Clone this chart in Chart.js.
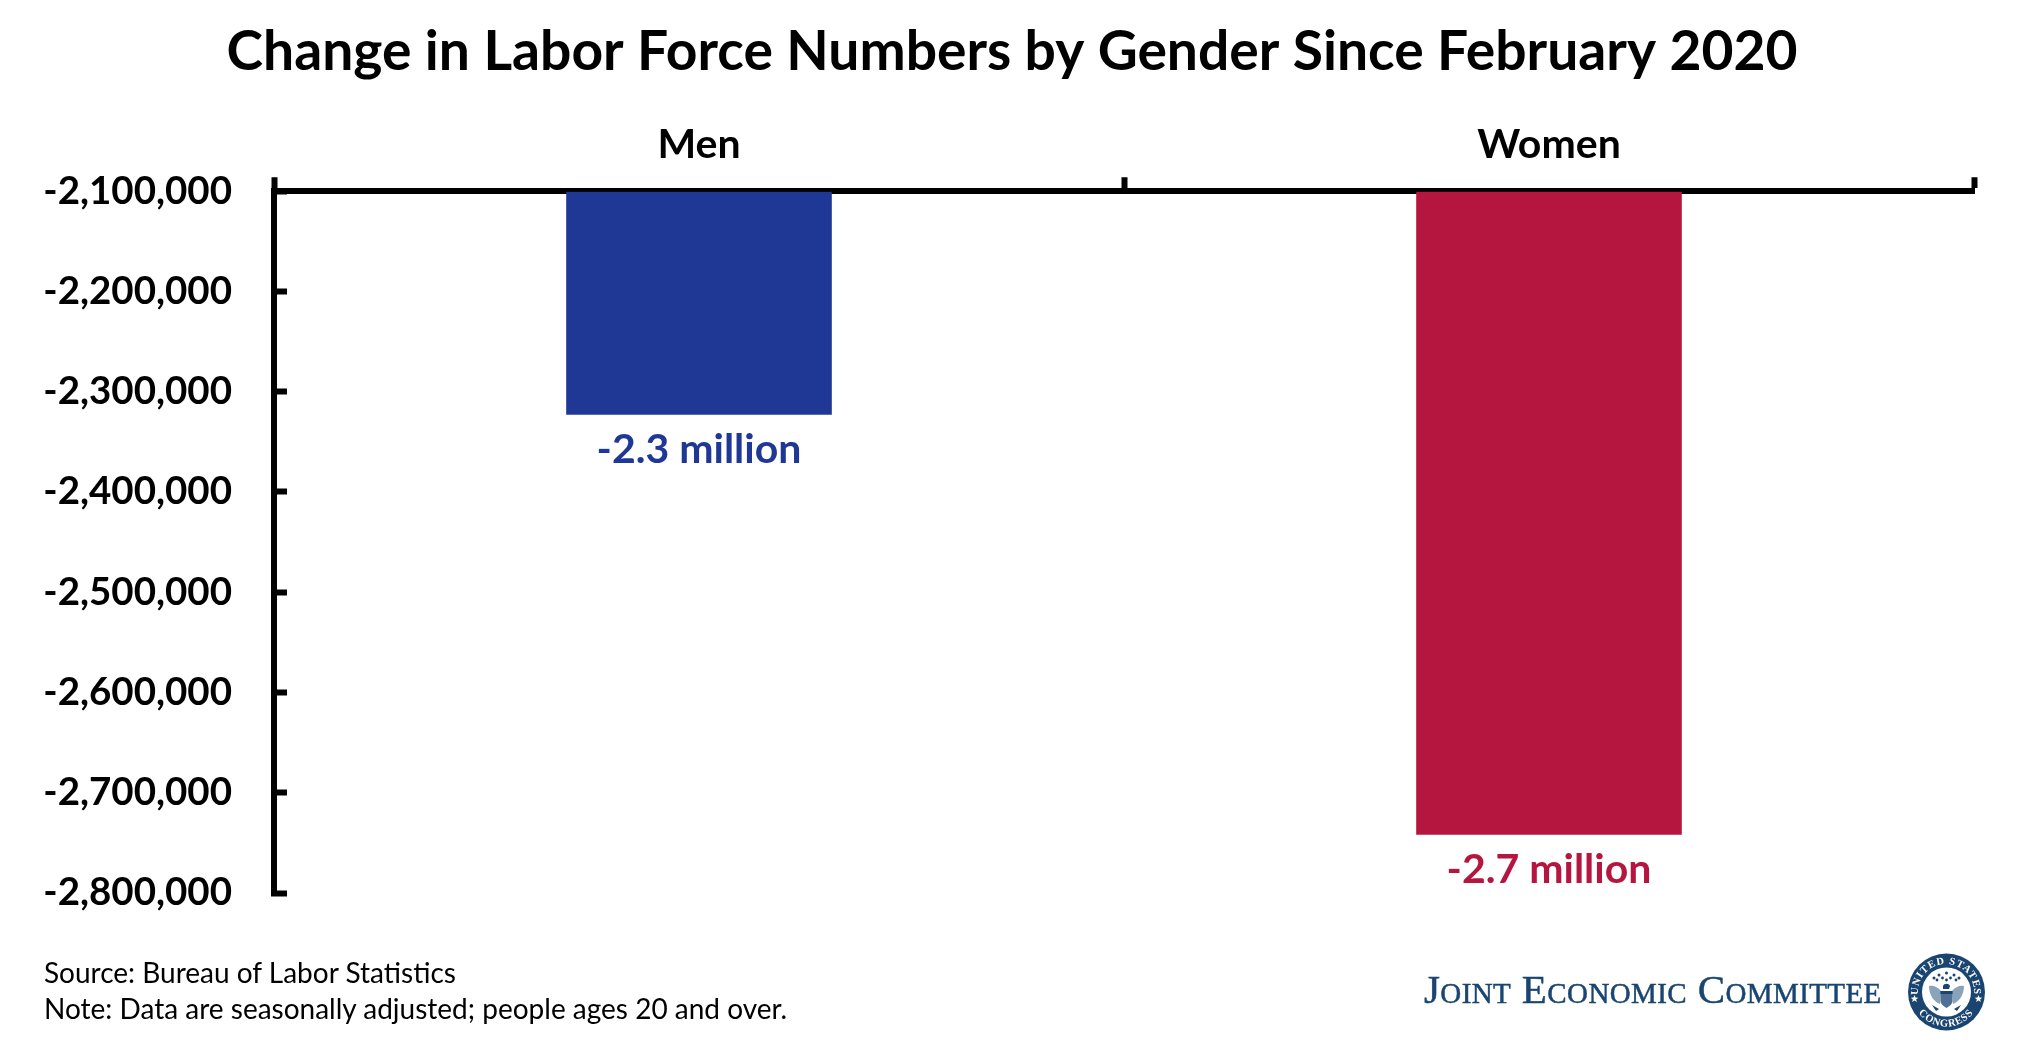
<!DOCTYPE html>
<html><head><meta charset="utf-8">
<script src="https://cdn.jsdelivr.net/npm/chart.js@4"></script>
<style>
html,body{margin:0;padding:0;background:#fff;width:2040px;height:1051px;overflow:hidden}
#wrap{position:absolute;left:0;top:0;width:2026px;height:1051px}
.note{position:absolute;left:44px;font-family:Lato,sans-serif;font-size:28px;color:#000;white-space:nowrap}
#jec{position:absolute;left:1424px;top:969px;font-family:"Liberation Serif",serif;font-variant:small-caps;font-size:41px;color:#1a4571;white-space:nowrap;line-height:40px;letter-spacing:.4px;-webkit-text-stroke:.5px #1a4571}
#seal{position:absolute;left:1907px;top:953px}
</style></head><body>
<div id="wrap"><canvas id="c"></canvas></div>
<div class="note" style="top:955px">Source: Bureau of Labor Statistics</div>
<div class="note" style="top:991px">Note: Data are seasonally adjusted; people ages 20 and over.</div>
<div id="jec">Joint Economic Committee</div>
<svg id="seal" width="78" height="78" viewBox="0 0 78 78">
<defs><path id="ta" d="M11 39a28 28 0 0 1 56 0"/><path id="tb" d="M4.5 39a34.5 34.5 0 0 0 69 0"/></defs>
<circle cx="39.5" cy="39" r="38.5" fill="#1a4571"/>
<circle cx="39.5" cy="39" r="24.5" fill="#fff"/>
<text font-family="Liberation Serif" font-weight="bold" font-size="10.5" fill="#fff" letter-spacing=".9"><textPath href="#ta" startOffset="50%" text-anchor="middle">UNITED STATES</textPath></text>
<text font-family="Liberation Serif" font-weight="bold" font-size="10.5" fill="#fff" letter-spacing=".7"><textPath href="#tb" startOffset="50%" text-anchor="middle">CONGRESS</textPath></text>
<g fill="#fff"><path d="M7.5 42l1 2.6 2.8.1-2.2 1.7.8 2.7-2.4-1.6-2.4 1.6.8-2.7-2.2-1.7 2.8-.1z"/><path d="M71.5 42l1 2.6 2.8.1-2.2 1.7.8 2.7-2.4-1.6-2.4 1.6.8-2.7-2.2-1.7 2.8-.1z"/></g>
<g fill="#1a4571"><circle cx="27" cy="25" r="1.5"/><circle cx="32" cy="22" r="1.5"/><circle cx="39.5" cy="20" r="1.5"/><circle cx="47" cy="22" r="1.5"/><circle cx="52" cy="25" r="1.5"/><circle cx="30" cy="27" r="1.4"/><circle cx="35.5" cy="25" r="1.4"/><circle cx="43.5" cy="25" r="1.4"/><circle cx="49" cy="27" r="1.4"/><circle cx="39.5" cy="27" r="1.4"/></g>
<path d="M22 33c4-1 9 1 12 5l-1 13c-6-2-11-9-11-18zM57 33c-4-1-9 1-12 5l1 13c6-2 11-9 11-18z" fill="#8ba3ba"/>
<path d="M36 33c1-3 6-3 7 0l-1 3h-6z" fill="#1a4571"/>
<path d="M33.5 38h12v10c0 3-3 5-6 7-3-2-6-4-6-7z" fill="#4f7093"/>
<path d="M33.5 38h12v3h-12zM25 52l7 4-3 2zM54 52l-7 4 3 2z" fill="#1a4571"/>
</svg>
<script>
const categories = ['Men', 'Women'];
const laborForceChange = [-2323000, -2742000];
const barLabels = ['-2.3 million', '-2.7 million'];
const barColors = ['#1f3896', '#b5163f'];
const axisMin = -2800000;
const axisMax = -2100000;
const axisStep = 100000;
const titleText = 'Change in Labor Force Numbers by Gender Since February 2020';

const barLabelPlugin = {
  id: 'barLabels',
  afterLayout(chart) {
    chart.scales.y.left = 0;
  },
  afterDatasetsDraw(chart) {
    const ctx = chart.ctx;
    const meta = chart.getDatasetMeta(0);
    ctx.save();
    ctx.font = 'bold 41px Lato, sans-serif';
    ctx.textAlign = 'center';
    ctx.textBaseline = 'middle';
    meta.data.forEach((bar, i) => {
      ctx.fillStyle = barColors[i];
      ctx.fillText(barLabels[i], bar.x, bar.y + 35);
    });
    ctx.restore();
  }
};

new Chart(document.getElementById('c'), {
  type: 'bar',
  data: {
    labels: categories,
    datasets: [{
      data: laborForceChange,
      backgroundColor: barColors,
      base: axisMax,
      barPercentage: 0.625,
      categoryPercentage: 0.5,
      borderWidth: 0
    }]
  },
  plugins: [barLabelPlugin],
  options: {
    responsive: true,
    maintainAspectRatio: false,
    animation: false,
    layout: { padding: { left: 50, right: 52, top: 0, bottom: 158 } },
    plugins: {
      legend: { display: false },
      tooltip: { enabled: false },
      title: {
        display: true,
        text: titleText,
        color: '#000',
        font: { family: 'Lato, sans-serif', size: 55.2, weight: 'bold' },
        padding: { top: 19, bottom: 10 }
      }
    },
    scales: {
      x: {
        position: 'top',
        afterFit(scale) { scale.height = 96; },
        border: { display: true, color: '#000', width: 6 },
        grid: { drawOnChartArea: false, drawTicks: true, tickLength: 14, tickWidth: 6, tickColor: '#000' },
        ticks: { color: '#000', padding: 8, font: { family: 'Lato, sans-serif', size: 41, weight: 'bold' } }
      },
      y: {
        min: axisMin,
        max: axisMax,
        afterFit(scale) { scale.width = 224; },
        border: { display: true, color: '#000', width: 6 },
        grid: { drawOnChartArea: false, drawTicks: true, tickLength: -13, tickWidth: 6, tickColor: '#000' },
        ticks: {
          stepSize: axisStep,
          color: '#000',
          padding: 55,
          font: { family: 'Lato, sans-serif', size: 38.5, weight: 'bold' },
          callback: v => v.toLocaleString('en-US')
        }
      }
    }
  }
});
</script>
</body></html>
